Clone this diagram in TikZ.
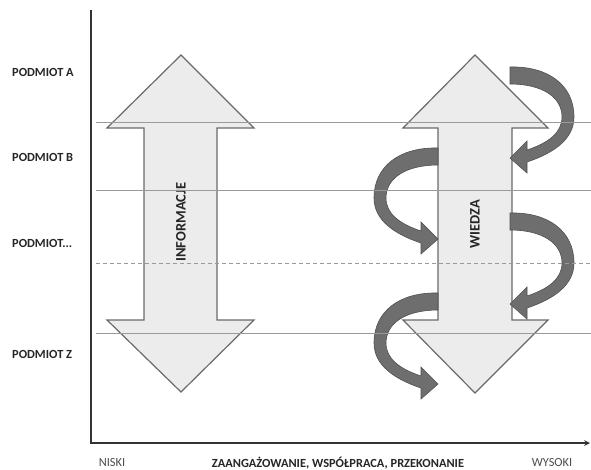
\documentclass[tikz,border=0pt]{standalone}
\usepackage{fontspec}
\setmainfont{Carlito}
\usepackage{xcolor}
\usetikzlibrary{arrows, arrows.meta, positioning}
\definecolor{bigfill}{HTML}{ECECEC}
\definecolor{bigedge}{HTML}{6A6A6A}
\definecolor{twistfill}{HTML}{6E6E6E}
\definecolor{twistedge}{HTML}{505050}
\definecolor{gridline}{HTML}{9A9A9A}
\tikzstyle{arrow} = [line width=1.6pt, color=black!80, ->, >=stealth]
\tikzset{
  lbl/.style     = {font = \fontsize{12.4}{14}\selectfont\bfseries, text = black!85, inner sep = 0pt},
  scalelbl/.style= {font = \fontsize{12.4}{14}\selectfont, text = black!70, inner sep = 0pt},
  biglbl/.style  = {font = \fontsize{14.5}{16}\selectfont\bfseries, text = black!85, inner sep = 0pt, rotate = 90},
  bigarrow/.style= {fill = bigfill, draw = bigedge, line width = 1.2pt, line join = miter},
  twist/.style   = {fill = twistfill, draw = twistedge, line width = 0.6pt},
  level/.style   = {draw = gridline, line width = 0.9pt},
  seam/.style    = {level, dash pattern = on 4pt off 3pt}
}

\begin{document}
\begin{tikzpicture}[x=1pt, y=-1pt]
\useasboundingbox (0,0) rectangle (591,469);

% Double arrows
\draw[bigarrow] (181,55) -- (254,128) -- (217,128) -- (217,320) -- (254,320) -- (181,392)
  -- (107,320) -- (144,320) -- (144,128) -- (107,128) -- cycle;
\draw[bigarrow] (475,55) -- (548,128) -- (512,128) -- (512,320) -- (548,320) -- (475,393)
  -- (403,320) -- (438,320) -- (438,128) -- (403,128) -- cycle;
\node[biglbl] (info) at (181,222) {INFORMACJE};
\node[biglbl] (wiedza) at (475,224) {WIEDZA};

% Curved arrows round the knowledge arrow
\foreach \sx/\sy/\dir in {510/67/1, 438/148/-1, 510/213/1, 438/293/-1} {
  \begin{scope}[shift={(\sx,\sy)}, xscale=\dir]
    \draw[twist] (0,0) .. controls (38,-1) and (64,18) .. (64,50)
      .. controls (64,72) and (44,86) .. (17,95) -- (17,106) -- (0,91) -- (17,74) -- (17,83)
      .. controls (38,76) and (52,66) .. (52,50) .. controls (52,30) and (32,17) .. (0,17) -- cycle;
  \end{scope}
}

% Levels
\foreach \y in {122, 190, 333} {
  \draw[level] (96,\y) -- (591,\y);
}
\draw[seam] (96,263) -- (591,263);

% Axes
\draw[arrow] (91,10) |- (590,443);

% Subjects
\node[lbl, anchor=west] (podA) at (12,72) {PODMIOT A};
\node[lbl, anchor=west] (podB) at (12,157) {PODMIOT B};
\node[lbl, anchor=west] (podX) at (12,243) {PODMIOT...};
\node[lbl, anchor=west] (podZ) at (12,354) {PODMIOT Z};

% Scale
\node[scalelbl] (niski) at (112,463) {NISKI};
\node[lbl] (zaang) at (338,463) {ZAANGAŻOWANIE, WSPÓŁPRACA, PRZEKONANIE};
\node[scalelbl] (wysoki) at (552,463) {WYSOKI};
\end{tikzpicture}
\end{document}
